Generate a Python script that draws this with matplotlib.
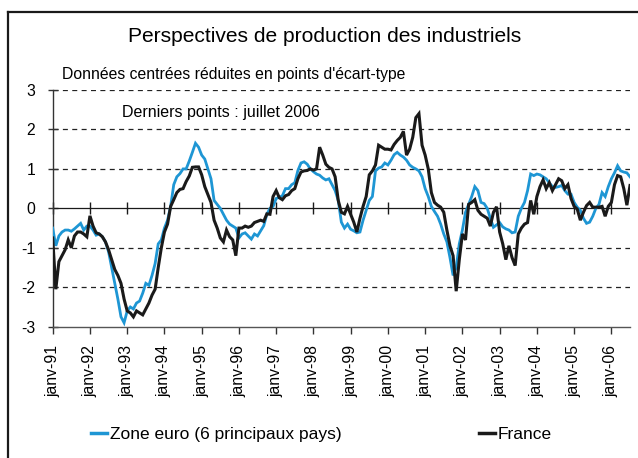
import matplotlib
matplotlib.use("Agg")
import matplotlib.pyplot as plt
from matplotlib.lines import Line2D
import numpy as np

plt.rcParams['font.family'] = ['Liberation Sans', 'DejaVu Sans']

tick_labels = ["janv-91", "janv-92", "janv-93", "janv-94", "janv-95", "janv-96",
               "janv-97", "janv-98", "janv-99", "janv-00", "janv-01", "janv-02",
               "janv-03", "janv-04", "janv-05", "janv-06"]

france = [
    -0.75, -2.05, -1.35, -1.2, -1.05, -0.8, -1.0, -0.7, -0.6, -0.6, -0.65, -0.72,
    -0.19, -0.45, -0.62, -0.65, -0.72, -0.85, -1.05, -1.3, -1.55, -1.7, -1.9, -2.3,
    -2.6, -2.65, -2.75, -2.6, -2.65, -2.7, -2.55, -2.4, -2.2, -2.05, -1.5, -1.0,
    -0.6, -0.4, 0.05, 0.22, 0.4, 0.48, 0.5, 0.68, 0.82, 1.04, 1.05, 1.05,
    0.85, 0.55, 0.35, 0.15, -0.3, -0.5, -0.75, -0.85, -0.55, -0.72, -0.8, -1.2,
    -0.5, -0.5, -0.45, -0.48, -0.45, -0.36, -0.33, -0.3, -0.33, -0.14, -0.15, 0.3,
    0.45, 0.27, 0.22, 0.32, 0.35, 0.45, 0.5, 0.75, 0.92, 0.95, 0.96, 1.0,
    0.97, 1.0, 1.55, 1.35, 1.12, 1.04, 1.0, 0.8, 0.2, -0.1, -0.14, 0.05,
    -0.15, -0.35, -0.6, -0.25, 0.05, 0.3, 0.85, 0.95, 1.1, 1.6, 1.55, 1.5,
    1.5, 1.48, 1.62, 1.72, 1.8, 1.95, 1.35, 1.5, 1.8, 2.3, 2.4, 1.6,
    1.35, 1.0, 0.4, 0.15, 0.08, 0.03, -0.1, -0.55, -0.95, -1.2, -2.1, -1.3,
    -0.65, -0.8, 0.1, 0.15, 0.22, -0.05, -0.15, -0.2, -0.25, -0.45, -0.1, 0.04,
    -0.6, -0.9, -1.3, -0.95, -1.25, -1.45, -0.65, -0.5, -0.4, -0.36, 0.2, -0.15,
    0.3, 0.55, 0.72, 0.5, 0.65, 0.45, 0.6, 0.75, 0.7, 0.5, 0.6, 0.25,
    0.05, -0.02, -0.3, -0.1, 0.07, 0.15, 0.03, 0.03, 0.03, 0.05, -0.2, 0.05,
    0.15, 0.6, 0.83, 0.8, 0.5, 0.08, 0.58,
]

zone_euro = [
    -0.5, -0.95, -0.7, -0.6, -0.55, -0.55, -0.58, -0.52, -0.45, -0.38, -0.55, -0.45,
    -0.45, -0.55, -0.68, -0.65, -0.72, -0.85, -1.1, -1.5, -1.9, -2.3, -2.75, -2.9,
    -2.6, -2.5, -2.55, -2.4, -2.35, -2.15, -1.9, -1.95, -1.7, -1.4, -0.9, -0.8,
    -0.5, -0.3, 0.05, 0.6, 0.8, 0.88, 1.0, 1.0, 1.2, 1.42, 1.65, 1.55,
    1.35, 1.25, 1.0, 0.75, 0.2, 0.1, 0.0, -0.15, -0.3, -0.4, -0.45, -0.5,
    -0.75, -0.65, -0.62, -0.7, -0.78, -0.65, -0.7, -0.57, -0.44, -0.15, 0.0, 0.05,
    0.25, 0.28, 0.32, 0.5, 0.5, 0.6, 0.65, 0.96, 1.15, 1.18, 1.12, 1.0,
    0.93, 0.87, 0.84, 0.77, 0.72, 0.75, 0.6, 0.45, 0.2, -0.35, -0.5, -0.4,
    -0.53, -0.57, -0.62, -0.6, -0.3, -0.05, 0.2, 0.3, 0.95, 1.02, 1.05, 1.15,
    1.1, 1.22, 1.36, 1.42, 1.35, 1.3, 1.22, 1.1, 1.04, 1.0, 0.95, 0.8,
    0.5, 0.3, 0.05, -0.08, -0.2, -0.4, -0.65, -0.85, -1.25, -1.7, -1.5, -0.9,
    -0.55, -0.1, 0.1, 0.3, 0.55, 0.45, 0.15, 0.12, 0.0, -0.25, -0.48, -0.42,
    -0.36, -0.47, -0.52, -0.55, -0.62, -0.6, -0.2, 0.0, 0.15, 0.45, 0.87, 0.83,
    0.87, 0.85, 0.8, 0.75, 0.65, 0.55, 0.53, 0.55, 0.58, 0.45, 0.36, 0.36,
    0.15, 0.03, -0.05, -0.25, -0.38, -0.35, -0.2, 0.0, 0.1, 0.4, 0.3, 0.55,
    0.75, 0.9, 1.08, 0.95, 0.92, 0.9, 0.8,
]

months = np.arange(len(france))
tick_pos = np.arange(0, 12 * len(tick_labels), 12)

BLUE = '#1e96d4'
BLACK = '#1a1a1a'

fig = plt.figure(figsize=(6.38, 4.58), dpi=100)
ax = fig.add_axes([52.7 / 638, 1 - 326.7 / 458, (630 - 52.7) / 638, (326.7 - 90) / 458])

ax.plot(months, zone_euro, color=BLUE, lw=2.0, solid_joinstyle='miter', zorder=3)
ax.plot(months, france, color=BLACK, lw=2.2, solid_joinstyle='miter', zorder=4)

ax.set_xlim(0, len(france) - 1)
ax.set_ylim(-3, 3)
for v in [3, 2, 1, -1, -2]:
    ax.axhline(v, color='#222222', lw=0.9, dashes=(4, 3.5), zorder=1)
ax.axhline(0, color=BLACK, lw=0.9, zorder=2)

ax.spines['top'].set_visible(False)
ax.spines['right'].set_visible(False)
ax.spines['left'].set_linewidth(1.0)
ax.spines['bottom'].set_linewidth(1.0)
ax.spines['left'].set_color('#333333')
ax.spines['bottom'].set_color('#555555')

ax.set_xticks(tick_pos)
ax.set_xticklabels(tick_labels, rotation=90, fontsize=11.3)
ax.set_yticks([3, 2, 1, 0, -1, -2, -3])
ax.set_yticklabels(['3', '2', '1', '0', '-1', '-2', '-3'], fontsize=11.3)
ax.tick_params(axis='x', direction='out', length=5, width=1.0, pad=8, color='#333333')
ax.tick_params(axis='y', direction='inout', length=7, width=1.0, pad=9, color='#333333')

sec = ax.secondary_xaxis(0.5)
sec.set_xticks(tick_pos)
sec.tick_params(direction='inout', length=9, width=1.0, labelbottom=False, labeltop=False, color=BLACK)
sec.spines['bottom'].set_visible(False)
sec.spines['top'].set_visible(False)
sec.set_xticklabels([])

fig.text(325 / 638, 1 - 37 / 458, "Perspectives de production des industriels",
         ha='center', va='center', fontsize=15.1)
fig.text(62 / 638, 1 - 75 / 458, "Données centrées réduites en points d'écart-type",
         ha='left', va='center', fontsize=11.3)
fig.text(122 / 638, 1 - 112 / 458, "Derniers points : juillet 2006",
         ha='left', va='center', fontsize=11.5)

handles = [Line2D([], [], color=BLUE, lw=2.5), Line2D([], [], color=BLACK, lw=2.5)]
fig.legend(handles, ["Zone euro (6 principaux pays)", "France"],
           loc='center left', bbox_to_anchor=(91 / 638, 1 - 434 / 458), ncol=2,
           frameon=False, fontsize=12.5, handlelength=0.9, handletextpad=0.2,
           columnspacing=7.9, borderaxespad=0, borderpad=0)

fig.add_artist(Line2D([8 / 638, 8 / 638], [0, 1 - 12 / 458], transform=fig.transFigure,
                      color=BLACK, lw=1.6))
fig.add_artist(Line2D([8 / 638, 1], [1 - 12 / 458, 1 - 12 / 458], transform=fig.transFigure,
                      color=BLACK, lw=1.6))

fig.savefig("out.png", dpi=100)
